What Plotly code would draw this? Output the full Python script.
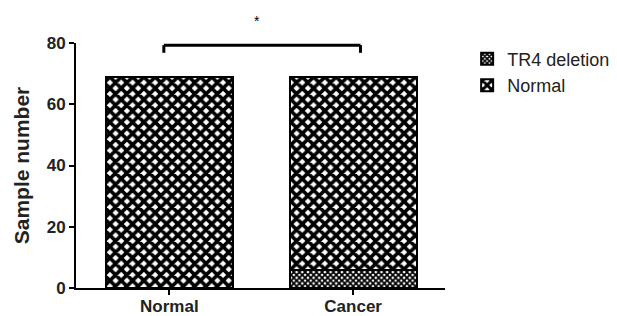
import plotly.graph_objects as go

categories = ["Normal", "Cancer"]
tr4_deletion = [0, 6]
normal_vals = [69, 63]
y_ticks = [0, 20, 40, 60, 80]
legend_names = ["TR4 deletion", "Normal"]
sig_label = "*"

FONT = "Liberation Sans, Arial, sans-serif"

fig = go.Figure()
fig.add_trace(go.Bar(
    x=categories, y=tr4_deletion, name=legend_names[0], width=0.69,
    marker=dict(color="white", line=dict(color="black", width=2),
                pattern=dict(shape="x", size=4, solidity=0.7, fgcolor="black", bgcolor="white", fillmode="replace")),
))
fig.add_trace(go.Bar(
    x=categories, y=normal_vals, name=legend_names[1], width=0.69,
    marker=dict(color="white", line=dict(color="black", width=2),
                pattern=dict(shape="x", size=8, solidity=0.7, fgcolor="black", bgcolor="white", fillmode="replace")),
))

# significance bracket
bx0, bx1 = -0.03, 1.04
by, bend = 79.3, 76.8
fig.add_shape(type="line", xref="x", yref="y", x0=bx0, x1=bx1, y0=by, y1=by,
              line=dict(color="black", width=3))
for bx in (bx0, bx1):
    fig.add_shape(type="line", xref="x", yref="y", x0=bx, x1=bx, y0=by, y1=bend,
                  line=dict(color="black", width=3))
fig.add_annotation(x=0.476, y=1.13, xref="x", yref="paper", text=sig_label,
                   showarrow=False, font=dict(family=FONT, size=14, color="black"))

fig.update_layout(
    template="none",
    width=617, height=316,
    margin=dict(l=76, r=172, t=43, b=28, autoexpand=False),
    barmode="stack",
    plot_bgcolor="white", paper_bgcolor="white",
    font=dict(family=FONT, color="black"),
    showlegend=True,
    legend=dict(x=1.06, y=1.01, xanchor="left", yanchor="top", traceorder="normal",
                font=dict(family=FONT, size=18, color="#222"), bgcolor="rgba(0,0,0,0)",
                itemwidth=30),
    xaxis=dict(range=[-0.508, 1.5], showline=True, linecolor="black", linewidth=2,
               ticks="outside", ticklen=5, tickwidth=2, tickcolor="black", automargin=False,
               ticklabelstandoff=-3,
               tickfont=dict(family=FONT, size=17, color="#222", weight="bold"),
               showgrid=False, zeroline=False),
    yaxis=dict(range=[0, 80], tickvals=y_ticks, showline=True, linecolor="black", linewidth=2,
               ticks="outside", ticklen=5, tickwidth=2, tickcolor="black", automargin=False,
               tickfont=dict(family=FONT, size=17, color="#222", weight="bold"),
               title=dict(text="Sample number", font=dict(family=FONT, size=21, color="#222", weight="bold"), standoff=11),
               showgrid=False, zeroline=False),
)

fig.write_html("out.html", config={"displayModeBar": False},
               post_script="document.body.style.margin='0';document.body.style.padding='0';")
